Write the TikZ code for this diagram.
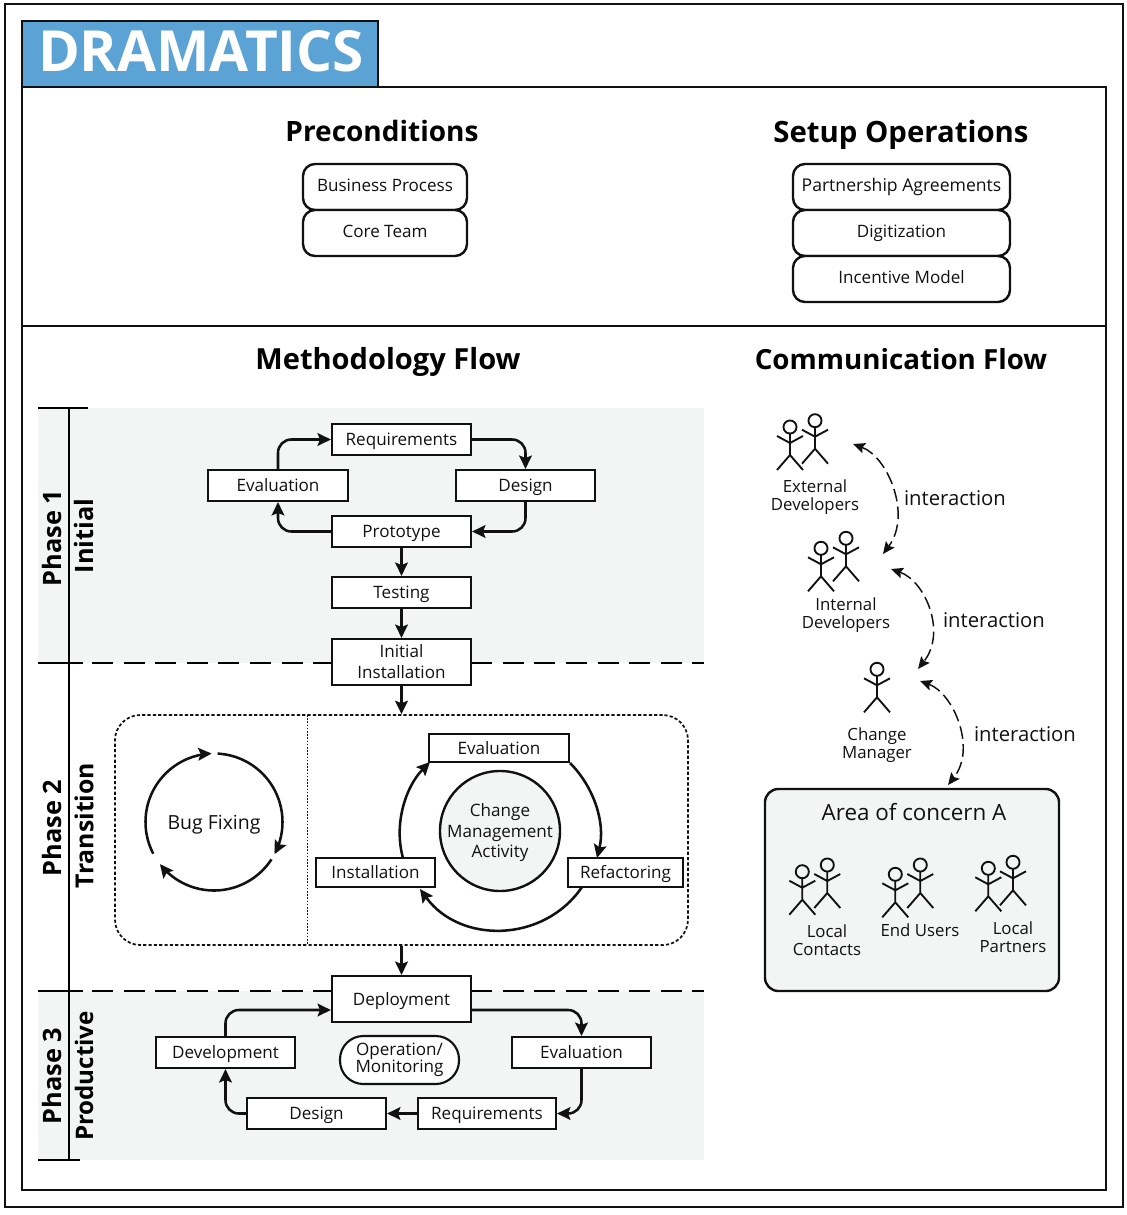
\documentclass[tikz,border=0pt]{standalone}
\usepackage{fontspec}
\setmainfont{Open Sans}
\usetikzlibrary{arrows.meta,calc}
\definecolor{tabblue}{HTML}{5BA3D5}
\definecolor{band}{HTML}{F3F5F5}
\definecolor{ink}{HTML}{111111}
\newcommand{\fs}[1]{\fontsize{#1}{#1}\selectfont}
\newcommand{\one}[1]{\rule{0pt}{9.2pt}\smash{#1}}
\newcommand{\ones}[1]{\rule{0pt}{6.2pt}\smash{#1}}
\tikzset{
  frame/.style={draw=ink,line width=2.1pt},
  conn/.style={draw=ink,line width=1.9pt,-{Stealth[length=10pt,width=9.5pt,inset=1.8pt]}},
  plainbox/.style={draw=ink,fill=white,line width=1.6pt,inner sep=0pt,align=center,text=ink,font=\fs{12.8pt}},
  stackbox/.style={plainbox,rounded corners=9pt,line width=1.8pt},
  lbl/.style={inner sep=0pt,align=center,text=ink,font={\fontsize{12.6pt}{13.5pt}\selectfont}},
  head/.style={inner sep=0pt,anchor=base,text=black,font=\fs{21pt}\bfseries},
  phase/.style={inner sep=0pt,text=black,rotate=90,font=\fs{19pt}\bfseries},
  stickman/.style={draw=ink,line width=1.4pt},
  dashcurve/.style={draw=ink,line width=1.1pt,dash pattern=on 9.5pt off 4pt,
    {Stealth[length=9pt,width=8pt,inset=1.5pt]}-{Stealth[length=9pt,width=8pt,inset=1.5pt]}},
  phaseline/.style={draw=black,line width=1.7pt},
  phasedash/.style={draw=black,line width=1.7pt,dash pattern=on 15.8pt off 7.9pt},
}
\newcommand{\bx}[7][plainbox]{\node[#1,minimum width={(#5-#3)*0.75pt},minimum height={(#6-#4)*0.75pt}] (#2) at ({(#3+#5)/2},{(#4+#6)/2}) {#7};}
\newcommand{\stick}[2]{%
  \draw[stickman] (#1,#2) circle[radius=4.9pt];
  \draw[stickman] (#1,#2+6.5) -- (#1,#2+28) (#1-13,#2+43) -- (#1,#2+28) -- (#1+13,#2+43)
     (#1-13,#2+9) -- (#1,#2+16) -- (#1+13,#2+9);}
\begin{document}
\begin{tikzpicture}[x=0.75pt,y=-0.75pt]
\useasboundingbox (0,0) rectangle (1127,1215);
\fill[white] (0,0) rectangle (1127,1215);
% frames
\draw[frame] (5,4) rectangle (1123,1207);
\draw[frame] (22,87) rectangle (1106,1190);
\draw[frame] (22,326) -- (1106,326);
\node[draw=ink,line width=2.1pt,fill=tabblue,minimum width={356*0.75pt},minimum height={66*0.75pt},inner sep=0pt] (tab) at (200,54) {};
\node[inner sep=0pt,anchor=base,text=white,font=\fs{42.5pt}\bfseries] (title) at (201,71) {DRAMATICS};
% headings
\node[head] (hpre) at (382,141.5) {Preconditions};
\node[head,font=\fs{22pt}\bfseries] (hset) at (901,142.5) {Setup Operations};
\node[head,font=\fs{21.8pt}\bfseries] (hmet) at (388,369.5) {Methodology Flow};
\node[head,font=\fs{20.8pt}\bfseries] (hcom) at (901,369.5) {Communication Flow};
% stacks
\bx[stackbox]{bp}{303}{164}{467}{210}{\ones{Business Process}}
\bx[stackbox]{ct}{303}{210}{467}{256}{\ones{Core Team}}
\bx[stackbox]{pa}{793}{164}{1010}{210}{\fs{13.2pt}\ones{Partnership Agreements}}
\bx[stackbox]{dg}{793}{210}{1010}{256}{\ones{Digitization}}
\bx[stackbox]{im}{793}{256}{1010}{302}{\ones{Incentive Model}}
% bands and phase rules
\fill[band] (38,408) rectangle (704,663);
\fill[band] (38,991) rectangle (704,1160);
\draw[phaseline] (38,408) -- (88,408);
\draw[phaseline] (38,1160) -- (80,1160);
\draw[phaseline] (69,408) -- (69,1160);
\draw[phaseline] (38,663) -- (83,663);
\draw[phasedash] (92,663) -- (704,663);
\draw[phaseline] (38,991) -- (83,991);
\draw[phasedash] (92,991) -- (704,991);
\node[phase] (p1) at (52,538) {Phase 1};
\node[phase] (i1) at (84,536) {Initial};
\node[phase] (p2) at (52,828) {Phase 2};
\node[phase,font=\fs{18.6pt}\bfseries] (i2) at (84,825.5) {Transition};
\node[phase] (p3) at (52,1076) {Phase 3};
\node[phase,font=\fs{18.1pt}\bfseries] (i3) at (84,1076) {Productive};
% phase 1
\bx{req}{332}{424}{471}{455}{\one{Requirements}}
\bx{evl}{208}{470}{348}{501}{\one{Evaluation}}
\bx{des}{456}{470}{595}{501}{\one{Design}}
\bx{pro}{332}{516}{471}{547}{\one{Prototype}}
\bx{tes}{332}{577}{471}{608}{\one{Testing}}
\bx[plainbox,font={\fontsize{12.8pt}{15.75pt}\selectfont}]{ini}{332}{639}{471}{685}{Initial\\Installation}
\draw[conn,rounded corners=10pt] (evl.north) |- (req.west);
\draw[conn,rounded corners=10pt] (req.east) -| (des.north);
\draw[conn,rounded corners=10pt] (des.south) |- (pro.east);
\draw[conn,rounded corners=10pt] (pro.west) -| (evl.south);
\draw[conn] (pro.south) -- (tes.north);
\draw[conn] (tes.south) -- (ini.north);
% phase 2
\node[draw=ink,line width=1.3pt,dash pattern=on 2.4pt off 1.6pt,rounded corners=19pt,minimum width={573*0.75pt},minimum height={230*0.75pt},inner sep=0pt] (trans) at (401.5,830) {};
\coordinate (sepT) at (307.5,715);
\coordinate (sepB) at (307.5,945);
\draw[draw=ink,line width=0.7pt,dash pattern=on 1.2pt off 1.2pt] (sepT) -- (sepB);
\draw[conn] (ini.south) -- (trans.north);
% bug fixing
\node[lbl,font=\fs{14.6pt}] (bug) at (214,823) {\one{Bug Fixing}};
\draw[conn] plot[domain=152.5:268,samples=50,smooth] ({214+68.5*cos(\x)},{822+68.5*sin(\x)});
\draw[conn] plot[domain=-87:28,samples=50,smooth] ({214+68.5*cos(\x)},{822+68.5*sin(\x)});
\draw[conn] plot[domain=33:142,samples=50,smooth] ({214+68.5*cos(\x)},{822+68.5*sin(\x)});
% change cycle
\node[draw=ink,line width=1.8pt,fill=band,circle,minimum size={120*0.75pt},inner sep=0pt] (cma) at (500,831) {};
\node[lbl,font={\fontsize{12.8pt}{15.4pt}\selectfont}] (cmat) at (500,833) {Change\\Management\\Activity};
\bx{ev2}{429}{734}{569}{762}{\one{Evaluation}}
\bx{ins}{316}{858}{435}{887}{\one{Installation}}
\bx{rfc}{568}{858}{683}{887}{\one{Refactoring}}
\coordinate (refTop) at (597,858);
\coordinate (refBot) at (582,887);
\coordinate (insBot) at (420,889);
\coordinate (insTop) at (403,858);
\coordinate (evLeft) at (430,762);
\draw[conn] (ev2.south east) .. controls (593.5,786.5) and (605.7,822.5) .. (refTop);
\draw[conn] (refBot) .. controls (543.7,943.2) and (460,944) .. (insBot);
\draw[conn] (insTop) .. controls (393.6,824.3) and (405.4,786.9) .. (evLeft);
% phase 3
\bx{dep}{332}{976}{471}{1022}{\one{Deployment}}
\bx{dev}{156}{1037}{295}{1068}{\one{Development}}
\bx{ev3}{512}{1037}{651}{1068}{\one{Evaluation}}
\bx{rq3}{418}{1098}{556}{1129}{\one{Requirements}}
\bx{ds3}{247}{1098}{386}{1129}{\one{Design}}
\bx[plainbox,rounded corners=17.5pt,font={\fontsize{12.8pt}{12.8pt}\selectfont}]{opm}{340}{1036}{459}{1084}{Operation/\\Monitoring}
\draw[conn] (trans.south) -- (dep.north);
\coordinate (depL) at (dep.west |- 0,1010);
\coordinate (depR) at (dep.east |- 0,1010);
\draw[conn,rounded corners=10pt] (dev.north) |- (depL);
\draw[conn,rounded corners=10pt] (depR) -| (ev3.north);
\draw[conn,rounded corners=10pt] (ev3.south) |- (rq3.east);
\draw[conn] (rq3.west) -- (ds3.east);
\draw[conn,rounded corners=10pt] (ds3.west) -| (dev.south);
% communication flow
\stick{790}{427}\stick{815}{420.7}
\node[lbl] (ext) at (815,497) {External\\Developers};
\stick{821}{548.3}\stick{846}{538.3}
\node[lbl] (int) at (846,615) {Internal\\Developers};
\stick{877}{669.3}
\node[lbl] (chg) at (877,745) {Change\\Manager};
\bx[plainbox,fill=band,rounded corners=10pt,line width=1.8pt]{area}{765}{789}{1059}{991}{}
\node[lbl,font=\fs{16.8pt}] (areat) at (914,814) {\one{Area of concern A}};
\stick{802.3}{871.7}\stick{827.3}{865}
\stick{895.3}{874.3}\stick{920.3}{865}
\stick{988.3}{868.3}\stick{1013}{862.3}
\node[lbl] (lc) at (827,940) {Local\\Contacts};
\node[lbl] (eu) at (920,930) {End Users};
\node[lbl] (lp) at (1013,937) {Local\\Partners};
\node[lbl,font=\fs{15.2pt}] (ia1) at (955,498) {interaction};
\node[lbl,font=\fs{15.2pt}] (ia2) at (994,620) {interaction};
\node[lbl,font=\fs{15.2pt}] (ia3) at (1025,734) {interaction};
\coordinate (a1s) at (853,444);
\coordinate (a1e) at (883,554);
\coordinate (a2s) at (891,569);
\coordinate (a2e) at (918,669);
\coordinate (a3s) at (920,681);
\coordinate (a3e) at (948,785);
\draw[dashcurve] (a1s) .. controls (888,457) and (912,515) .. (a1e);
\draw[dashcurve] (a2s) .. controls (925,581) and (947,632) .. (a2e);
\draw[dashcurve] (a3s) .. controls (953,693) and (977,748) .. (a3e);
\end{tikzpicture}
\end{document}
